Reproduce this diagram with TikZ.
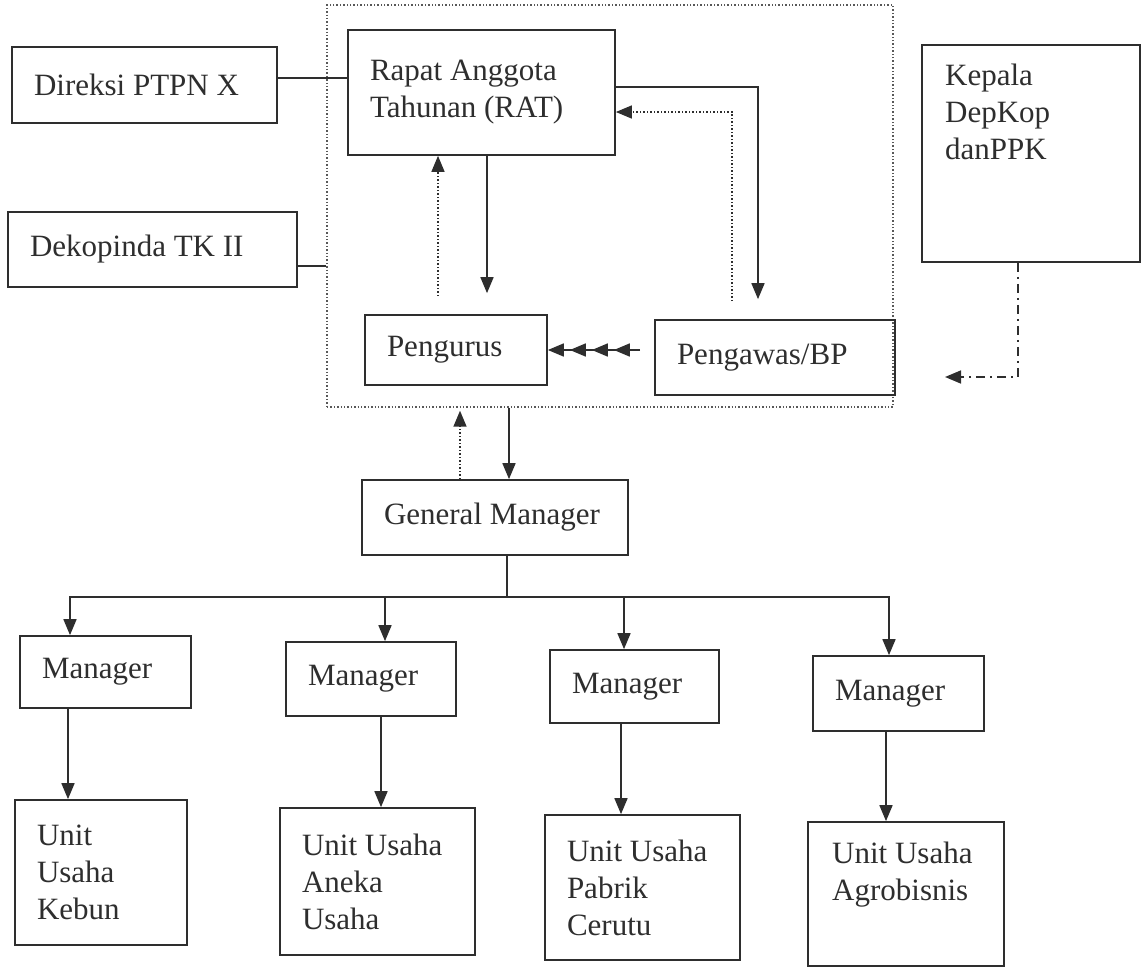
\documentclass[tikz,border=0pt]{standalone}
\usepackage{fontspec}
\setmainfont{Liberation Serif}
\usetikzlibrary{arrows.meta}
\definecolor{ink}{HTML}{2E2E2E}
\begin{document}
\begin{tikzpicture}[x=1pt,y=-1pt,
  txt/.style={font=\fontsize{31}{37}\selectfont, text=ink},
  box/.style={txt, draw=ink, line width=1.7pt, rectangle, inner xsep=22pt, inner ysep=0pt, align=flush left},
  dotbox/.style={draw=ink!80, line width=1.4pt, dotted},
  conn/.style={draw=ink, line width=1.7pt},
  tip/.style={-{Triangle[length=16pt,width=13pt]}},
  arr/.style={conn, tip},
  dotarr/.style={draw=ink, line width=1.5pt, dotted, tip},
  dasharr/.style={draw=ink, line width=1.7pt, dash pattern=on 9pt off 5pt on 2pt off 5pt, tip},
  multiarr/.style={conn, -{Triangle[length=16pt,width=13pt,sep=6pt]Triangle[length=16pt,width=13pt,sep=6pt]Triangle[length=16pt,width=13pt,sep=6pt]Triangle[length=16pt,width=13pt]}}
]
\useasboundingbox (0,0) rectangle (1143,967);

% dotted frame
\node[dotbox, minimum width=566pt, minimum height=402pt] (board) at (610,206) {};

% top boxes
\node[box, minimum width=265pt, minimum height=76pt, text width=221pt] (dir) at (144.5,85) {Direksi PTPN X};
\node[box, minimum width=289pt, minimum height=75pt, text width=245pt] (dek) at (152.5,249.5) {Dekopinda TK II};
\node[box, minimum width=267pt, minimum height=125pt, text width=223pt] (rat) at (481.5,92.5) {Rapat Anggota\\Tahunan (RAT)};
\node[box, minimum width=218pt, minimum height=217pt] (kep) at (1031,153.5) {};
\node[txt, anchor=base west, inner sep=0pt, align=flush left, text width=180pt] (kept) at (945,85) {Kepala\\DepKop\\danPPK};
\node[box, minimum width=182pt, minimum height=70pt, text width=138pt] (peng) at (456,350) {Pengurus};
\node[box, minimum width=240pt, minimum height=75pt, text width=196pt] (pgw) at (775,357.5) {Pengawas/BP};
\node[box, minimum width=266pt, minimum height=75pt, text width=222pt] (gm) at (495,517.5) {General Manager};

% managers
\node[box, minimum width=171pt, minimum height=72pt, text width=127pt] (m1) at (105.5,672) {Manager};
\node[box, minimum width=170pt, minimum height=74pt, text width=126pt] (m2) at (371,679) {Manager};
\node[box, minimum width=169pt, minimum height=73pt, text width=125pt] (m3) at (634.5,686.5) {Manager};
\node[box, minimum width=171pt, minimum height=75pt, text width=127pt] (m4) at (898.5,693.5) {Manager};

% units
\node[box, minimum width=172pt, minimum height=145pt, text width=128pt] (u1) at (101,872.5) {Unit\\Usaha\\Kebun};
\node[box, minimum width=195pt, minimum height=147pt, text width=151pt] (u2) at (377.5,881.5) {Unit Usaha\\Aneka\\Usaha};
\node[box, minimum width=195pt, minimum height=145pt, text width=151pt] (u3) at (642.5,887.5) {Unit Usaha\\Pabrik\\Cerutu};
\node[box, minimum width=196pt, minimum height=144pt] (u4) at (906,894) {};
\node[txt, anchor=base west, inner sep=0pt, align=flush left, text width=160pt] (u4t) at (832,863) {Unit Usaha\\Agrobisnis};

% helper coordinates
\coordinate (yDir) at (0,78);
\coordinate (yDek) at (0,266);
\coordinate (xA) at (487,0);
\coordinate (xB) at (438,0);
\coordinate (yC) at (0,87);
\coordinate (xC) at (758,0);
\coordinate (yD) at (0,112);
\coordinate (xD) at (732,0);
\coordinate (yE) at (0,350);
\coordinate (xF) at (1018,0);
\coordinate (depEnd) at (945,377);
\coordinate (xG) at (509,0);
\coordinate (xH) at (460,0);
\coordinate (bus) at (507,597);
\coordinate (b1) at (70,597);
\coordinate (b2) at (385,597);
\coordinate (b3) at (624,597);
\coordinate (b4) at (889,597);
\coordinate (c1) at (68,0);
\coordinate (c2) at (381,0);
\coordinate (c3) at (621,0);
\coordinate (c4) at (886,0);

% connectors
\draw[conn] (dir.east |- yDir) -- (rat.west |- yDir);
\draw[conn] (dek.east |- yDek) -- (board.west |- yDek);
\draw[arr, shorten >=21pt] (rat.south -| xA) -- (peng.north -| xA);
\draw[dotarr, shorten <=18pt] (peng.north -| xB) -- (rat.south -| xB);
\draw[arr, shorten >=20pt] (rat.east |- yC) -| (pgw.north -| xC);
\draw[dotarr, shorten <=18pt] (pgw.north -| xD) |- (rat.east |- yD);
\draw[multiarr, shorten <=14pt] (pgw.west |- yE) -- (peng.east |- yE);
\draw[dasharr] (kep.south -| xF) |- (depEnd);
\draw[arr] (board.south -| xG) -- (gm.north -| xG);
\draw[dotarr, shorten >=3pt] (gm.north -| xH) -- (board.south -| xH);

\draw[conn] (gm.south -| bus) -- (bus);
\draw[conn, {Triangle[length=16pt,width=13pt]}-{Triangle[length=16pt,width=13pt]}] (m1.north -| b1) -- (b1) -- (b4) -- (m4.north -| b4);
\draw[arr] (b2) -- (m2.north -| b2);
\draw[arr] (b3) -- (m3.north -| b3);

\draw[arr] (m1.south -| c1) -- (u1.north -| c1);
\draw[arr] (m2.south -| c2) -- (u2.north -| c2);
\draw[arr] (m3.south -| c3) -- (u3.north -| c3);
\draw[arr] (m4.south -| c4) -- (u4.north -| c4);
\end{tikzpicture}
\end{document}
